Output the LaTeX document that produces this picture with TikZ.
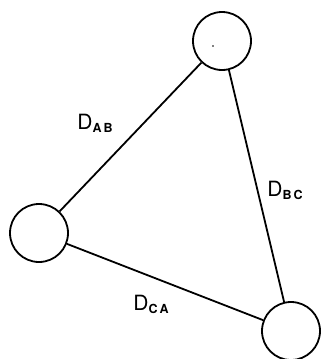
\documentclass[tikz,border=0pt]{standalone}
\usepackage{fontspec}
\setmainfont{TeX Gyre Heros}
\usetikzlibrary{positioning}
\newcommand{\dsub}[1]{\raisebox{-3pt}{\fontsize{12.5}{14}\selectfont\bfseries #1}}

\begin{document}
\begin{tikzpicture}[x=1pt, y=-1pt, line width=1.8pt,
  station/.style={circle, draw, minimum size=58pt, inner sep=0pt},
  dist/.style={font=\fontsize{21}{23}\selectfont, inner sep=0pt}]
  \useasboundingbox (0,0) rectangle (321,359);
  % the three stations
  \node[station] (A) at (39,233) {};
  \node[station] (B) at (222,41) {};
  \node[station] (C) at (291,331) {};
  \fill (213,46) circle (0.9pt);
  % links between them
  \draw (A) -- (B);
  \draw (B) -- (C);
  \draw (C) -- (A);
  % distance labels
  \node[dist] (dab) at (95,123) {D\dsub{A\,B}};
  \node[dist] (dbc) at (285,190) {D\dsub{B\,C}};
  \node[dist] (dca) at (151,304) {D\dsub{C\,A}};
\end{tikzpicture}
\end{document}
